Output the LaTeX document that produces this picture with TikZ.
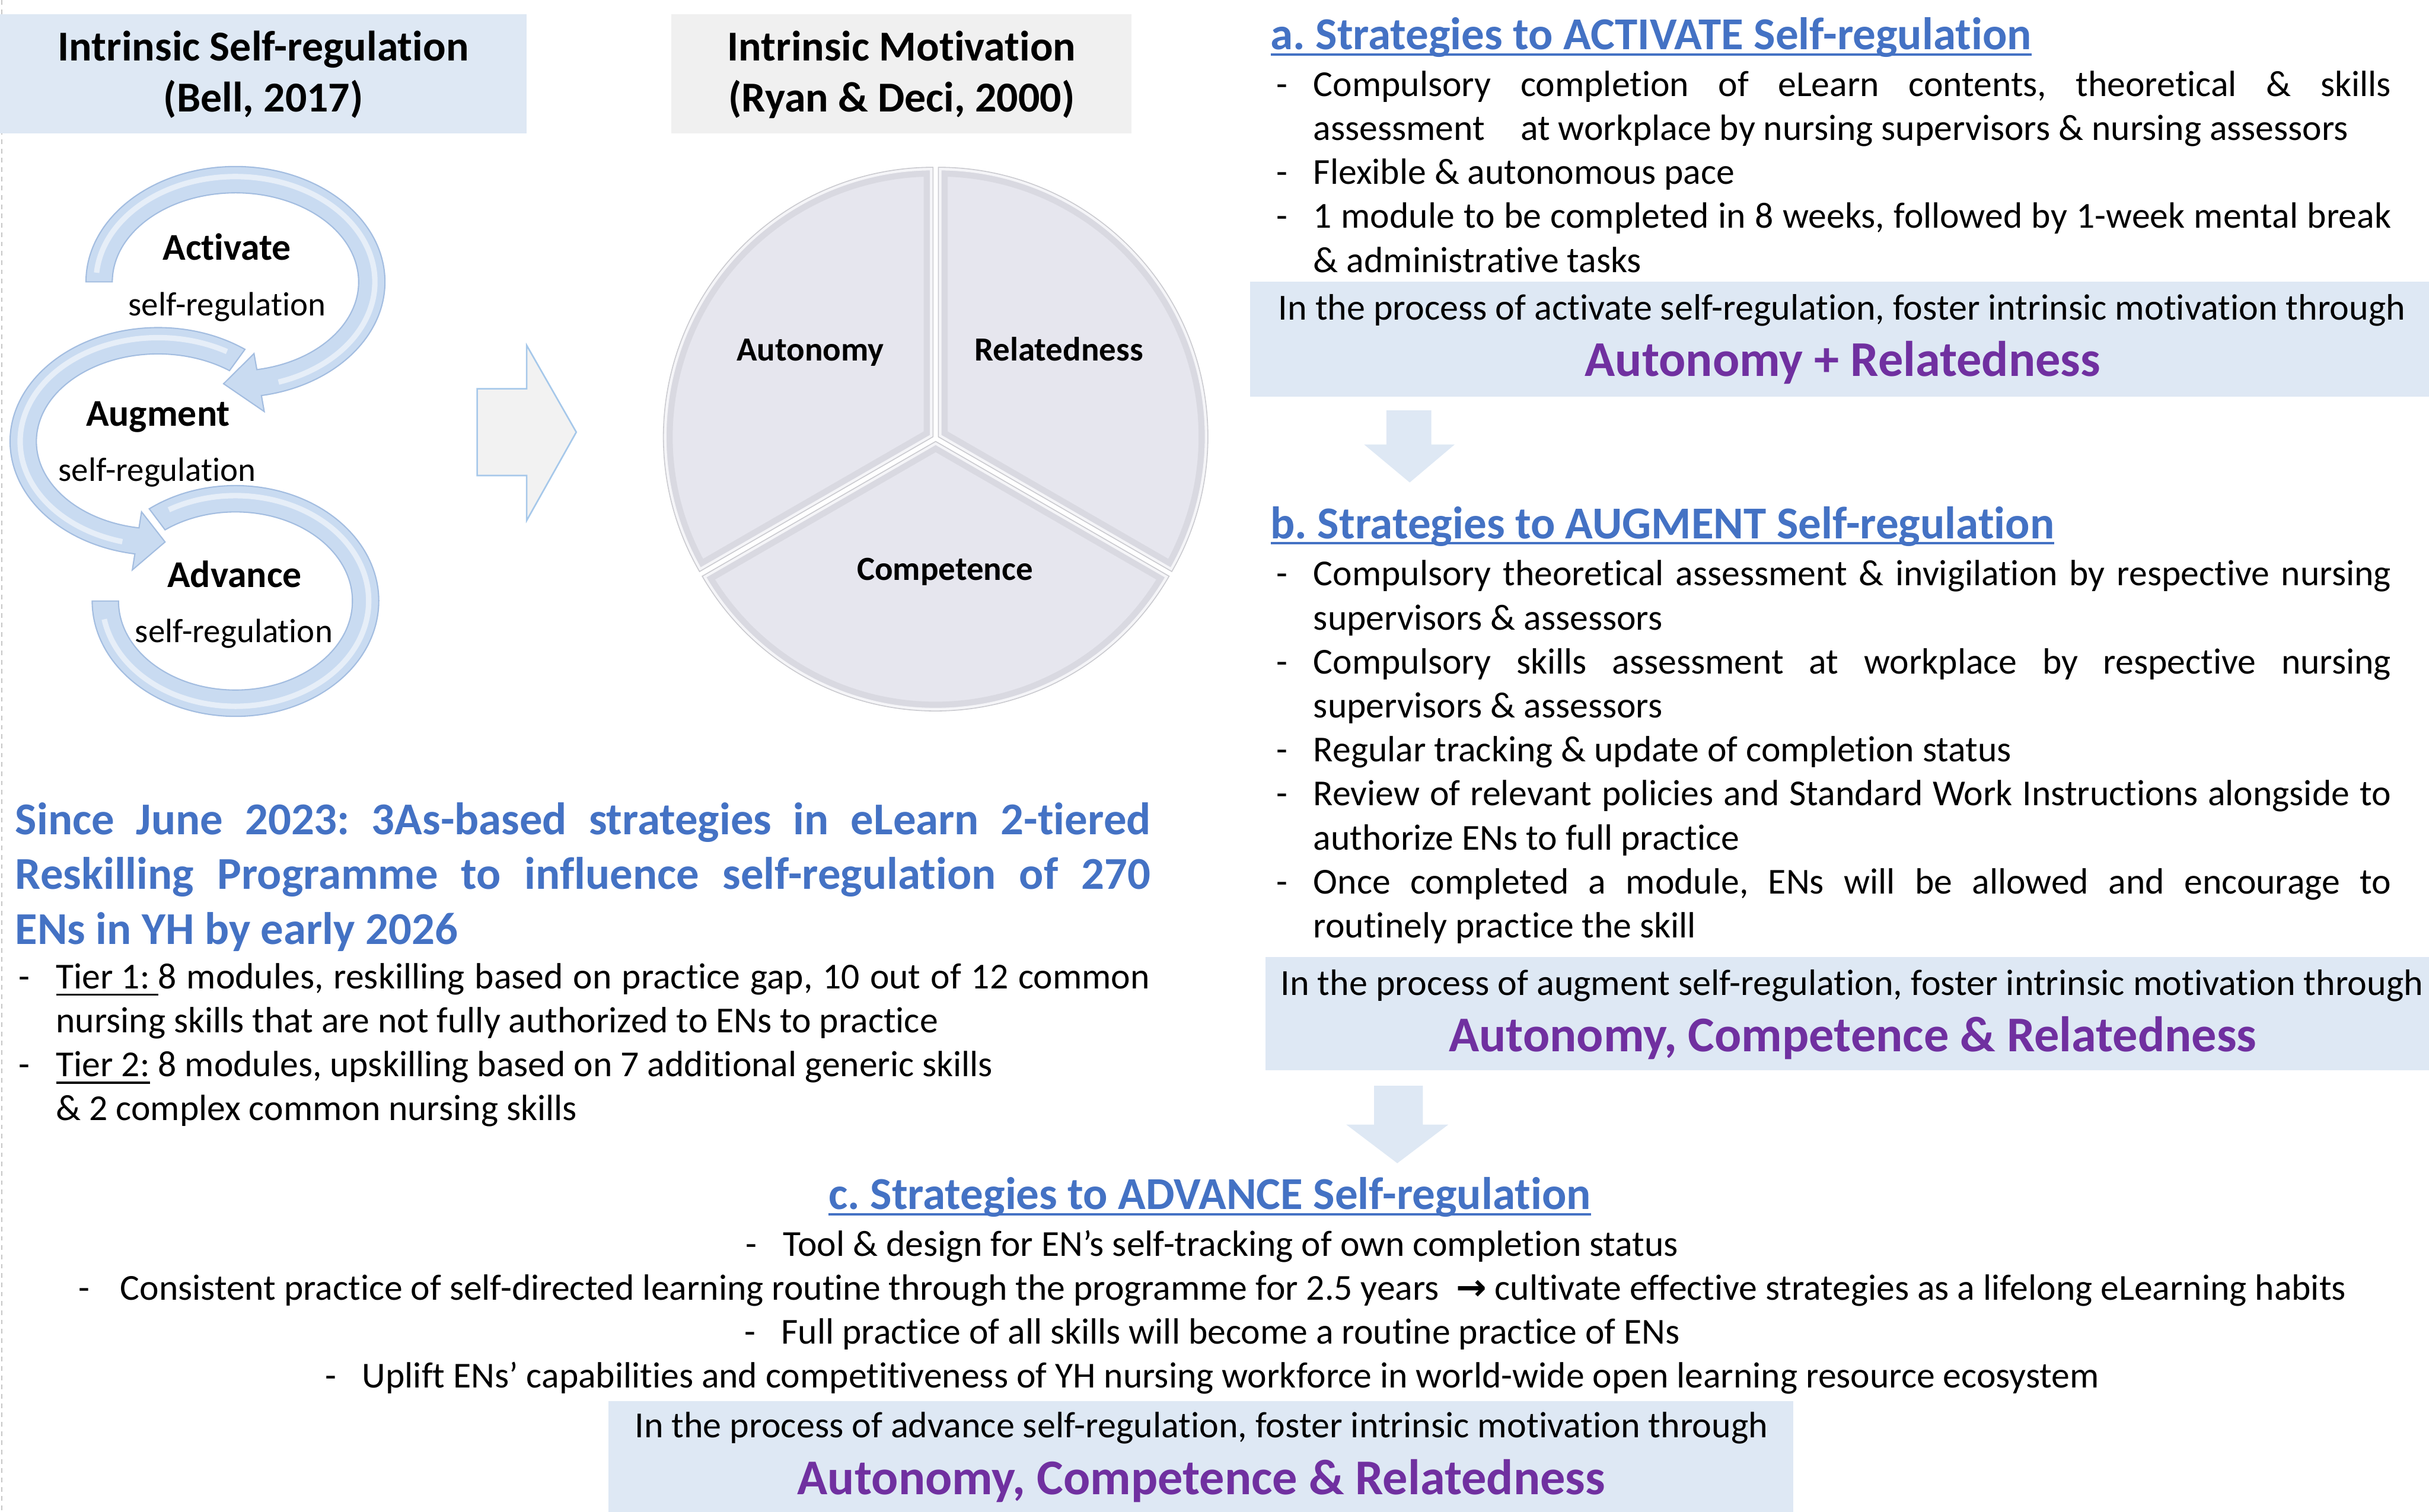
\documentclass[tikz,border=0pt]{standalone}
\usepackage{fontspec}
\setmainfont{Carlito}[Ligatures=NoCommon]
\newfontfamily\arrowfont{DejaVu Sans}
\usetikzlibrary{calc}
\frenchspacing

\definecolor{boxblue}{HTML}{DEE8F4}
\definecolor{boxgray}{HTML}{F0F0F0}
\definecolor{headblue}{HTML}{4472C4}
\definecolor{needpurple}{HTML}{7030A0}
\definecolor{arcfill}{HTML}{C9DBF1}
\definecolor{arcline}{HTML}{A3BDE0}
\definecolor{piefill}{HTML}{E6E6EE}
\definecolor{piebevel}{HTML}{D9D9E1}
\definecolor{pieline}{HTML}{CACACF}
\definecolor{blockfill}{HTML}{F2F2F2}
\definecolor{blockline}{HTML}{A6C8EA}

\newlength{\rightcol}\setlength{\rightcol}{695.6pt}
\newlength{\leftcol}\setlength{\leftcol}{706pt}
\newlength{\leadcol}\setlength{\leadcol}{733pt}

% justified line, dash column, hanging indent
\newcommand{\jl}[2][\rightcol]{\makebox[#1][s]{#2}}
\newcommand{\bul}[1][24pt]{\makebox[#1][l]{-}}
\newcommand{\ind}{\hspace*{24pt}}
% underline at a fixed depth below the baseline
\newcommand{\ulfix}[3]{\setbox0\hbox{#3}\rlap{\rule[-#1]{\wd0}{#2}}\box0\relax}

\tikzset{
  body/.style={font=\fontsize{23.6}{28.4}\selectfont, inner sep=0pt},
  titletext/.style={font=\fontsize{27.5}{33}\selectfont\bfseries, align=center,
    inner sep=0pt, anchor=north},
  leadtext/.style={font=\fontsize{29.4}{35.5}\selectfont\bfseries, text=headblue,
    align=left, inner sep=0pt, anchor=north west},
  strathead/.style={font=\fontsize{29.5}{35}\selectfont\bfseries, text=headblue,
    inner sep=0pt, anchor=base west},
  boxnote/.style={font=\fontsize{23.75}{28.4}\selectfont, inner sep=0pt, anchor=base},
  needs/.style={font=\fontsize{32.3}{38}\selectfont\bfseries, text=needpurple,
    inner sep=0pt, anchor=base},
  pielabel/.style={font=\fontsize{21.8}{26}\selectfont\bfseries, inner sep=0pt, anchor=base},
  stage/.style={font=\fontsize{24.4}{29}\selectfont\bfseries, inner sep=0pt, anchor=base},
  stagesub/.style={font=\fontsize{21.8}{26}\selectfont, inner sep=0pt, anchor=base},
  ribbon/.style={fill=arcfill, draw=arcline, line width=0.8},
  shine/.style={white, opacity=0.55, line width=3.5},
}

\begin{document}
\begin{tikzpicture}[x=1pt, y=-1pt]
\useasboundingbox (0,0) rectangle (1568,976);

\draw[gray!45, dashed, line width=0.8] (1,0) -- (1,976);

% titles
\fill[boxblue] (0,9) rectangle (340,86);
\fill[boxgray] (433.5,9) rectangle (730.5,86);
\node[titletext] (bell) at (170,15.9)
  {\strut Intrinsic Self-regulation\\(Bell, 2017)};
\node[titletext] (ryan) at (582,15.9)
  {\strut Intrinsic Motivation\\(Ryan \& Deci, 2000)};

% the three loops, drawn bottom up
\coordinate (actc) at (152,182);
\coordinate (augc) at (102,285);
\coordinate (advc) at (152,388);

\fill[ribbon] ($(advc)+(233:92.5 and 74.5)$)
  arc[start angle=233, end angle=540, x radius=92.5, y radius=74.5]
  -- ($(advc)+(540:75.5 and 57.5)$)
  arc[start angle=540, end angle=233, x radius=75.5, y radius=57.5] -- cycle;
\draw[shine] ($(advc)+(240:86 and 68)$)
  arc[start angle=240, end angle=530, x radius=86, y radius=68];

\fill[ribbon] ($(augc)+(306:95.5 and 73.5)$)
  arc[start angle=306, end angle=99, x radius=95.5, y radius=73.5]
  -- ($(augc)+(99:106 and 84)$) -- ($(augc)+(87:87 and 65)$)
  -- ($(augc)+(99:68 and 46)$) -- ($(augc)+(99:78.5 and 56.5)$)
  arc[start angle=99, end angle=306, x radius=78.5, y radius=56.5] -- cycle;
\draw[shine] ($(augc)+(300:89 and 67)$)
  arc[start angle=300, end angle=105, x radius=89, y radius=67];

\fill[ribbon] ($(actc)+(180:96.5 and 74.5)$)
  arc[start angle=180, end angle=440, x radius=96.5, y radius=74.5]
  -- ($(actc)+(440:107 and 85)$) -- ($(actc)+(455:88 and 66)$)
  -- ($(actc)+(440:69 and 47)$) -- ($(actc)+(440:79.5 and 57.5)$)
  arc[start angle=440, end angle=180, x radius=79.5, y radius=57.5] -- cycle;
\draw[shine] ($(actc)+(185:90 and 68)$)
  arc[start angle=185, end angle=432, x radius=90, y radius=68];

\node[stage] (activate) at (146.5,167.7) {Activate};
\node[stagesub] (activatesub) at (146.7,204) {self-regulation};
\node[stage] (augment) at (102,275) {Augment};
\node[stagesub] (augmentsub) at (101.5,310.8) {self-regulation};
\node[stage] (advance) at (151.4,379) {Advance};
\node[stagesub] (advancesub) at (151,414.8) {self-regulation};

% block arrow to the pie
\fill[blockfill, draw=blockline, line width=1] (308,251) -- (340,251) -- (340,223)
  -- (372,279) -- (340,336) -- (340,307) -- (308,307) -- cycle;

% pie of the three needs
\coordinate (pc) at (604,283);
\foreach \from/\to/\mid in {-90/30/-30, 30/150/90, 150/270/210}{
  \coordinate (apex) at ($(pc)+(\mid:2)$);
  \begin{scope}
    \clip (apex) -- ($(apex)+(\from:174)$)
      arc[start angle=\from, end angle=\to, radius=174] -- cycle;
    \fill[piefill] (apex) circle[radius=180];
    \draw[piebevel, line width=12] (apex) -- ($(apex)+(\from:174)$)
      arc[start angle=\from, end angle=\to, radius=174] -- cycle;
    \draw[white!60!piefill, line width=4] (apex) -- ($(apex)+(\from:174)$)
      arc[start angle=\from, end angle=\to, radius=174] -- cycle;
  \end{scope}
  \draw[pieline, line width=0.6] (apex) -- ($(apex)+(\from:174)$)
    arc[start angle=\from, end angle=\to, radius=174] -- cycle;
}
\node[pielabel] (autonomy) at (523,233) {Autonomy};
\node[pielabel] (relatedness) at (683.5,233) {Relatedness};
\node[pielabel] (competence) at (610,374.5) {Competence};

% programme summary
\node[leadtext] (since) at (9.7,513.65)
  {\strut\jl[\leadcol]{Since June 2023: 3As-based strategies in eLearn 2-tiered}\\
   \jl[\leadcol]{Reskilling Programme to influence self-regulation of 270}\\
   ENs in YH by early 2026};
\node[body, align=left, anchor=north west] (tiers) at (12,618.1)
  {\strut\bul\jl[\leftcol]{\ulfix{4.7pt}{1.3pt}{Tier 1:\ }8 modules, reskilling based on practice gap, 10 out of 12 common}\\
   \ind nursing skills that are not fully authorized to ENs to practice\\
   \bul\ulfix{4.7pt}{1.3pt}{Tier 2:} 8 modules, upskilling based on 7 additional generic skills\\
   \ind\& 2 complex common nursing skills};

% a. activate
\node[strathead] (acthead) at (820,32)
  {\ulfix{4pt}{1.6pt}{a. Strategies to ACTIVATE Self-regulation}};
\node[body, align=left, anchor=north west] (actlist) at (823.7,42.1)
  {\strut\bul\jl{Compulsory completion of eLearn contents, theoretical \& skills}\\
   \ind assessment\hspace{23pt}at workplace by nursing supervisors \& nursing assessors\\
   \bul Flexible \& autonomous pace\\
   \bul\jl{1 module to be completed in 8 weeks, followed by 1-week mental break}\\
   \ind\& administrative tasks};
\fill[boxblue] (807,182) rectangle (1568,256);
\node[boxnote] (actnote) at (1189,206.6)
  {In the process of activate self-regulation, foster intrinsic motivation through};
\node[needs] (actneeds) at (1189.5,243) {Autonomy + Relatedness};

\fill[boxblue] (895,265) -- (924,265) -- (924,287) -- (939,287) -- (910,311.5)
  -- (880.6,287) -- (895,287) -- cycle;

% b. augment
\node[strathead] (aughead) at (820,347.6)
  {\ulfix{4pt}{1.6pt}{b. Strategies to AUGMENT Self-regulation}};
\node[body, align=left, anchor=north west] (auglist) at (823.7,358.1)
  {\strut\bul\jl{Compulsory theoretical assessment \& invigilation by respective nursing}\\
   \ind supervisors \& assessors\\
   \bul\jl{Compulsory skills assessment at workplace by respective nursing}\\
   \ind supervisors \& assessors\\
   \bul Regular tracking \& update of completion status\\
   \bul\jl{Review of relevant policies and Standard Work Instructions alongside to}\\
   \ind authorize ENs to full practice\\
   \bul\jl{Once completed a module, ENs will be allowed and encourage to}\\
   \ind routinely practice the skill};
\fill[boxblue] (817,617.7) rectangle (1568,691);
\node[boxnote] (augnote) at (1195.5,642.7)
  {In the process of augment self-regulation, foster intrinsic motivation through};
\node[needs] (augneeds) at (1196,679) {Autonomy, Competence \& Relatedness};

\fill[boxblue] (887,701) -- (918.5,701) -- (918.5,726) -- (935,726) -- (902,751)
  -- (869,726) -- (887,726) -- cycle;

% c. advance
\node[strathead, anchor=base] (advhead) at (781,780.7)
  {\ulfix{4pt}{1.6pt}{c. Strategies to ADVANCE Self-regulation}};
\node[body, align=center, anchor=north] (advlist) at (782.5,790.8)
  {\strut\bul Tool \& design for EN’s self-tracking of own completion status\\
   \bul[27pt]Consistent practice of self-directed learning routine through the programme for 2.5 years\hspace{11pt}{\arrowfont\bfseries →}\hspace{5pt}cultivate effective strategies as a lifelong eLearning habits\\
   \bul Full practice of all skills will become a routine practice of ENs\\
   \bul Uplift ENs’ capabilities and competitiveness of YH nursing workforce in world-wide open learning resource ecosystem};
\fill[boxblue] (392.6,904.5) rectangle (1157.7,976);
\node[boxnote] (advnote) at (775.5,928)
  {In the process of advance self-regulation, foster intrinsic motivation through};
\node[needs] (advneeds) at (775.5,965) {Autonomy, Competence \& Relatedness};
\end{tikzpicture}
\end{document}
